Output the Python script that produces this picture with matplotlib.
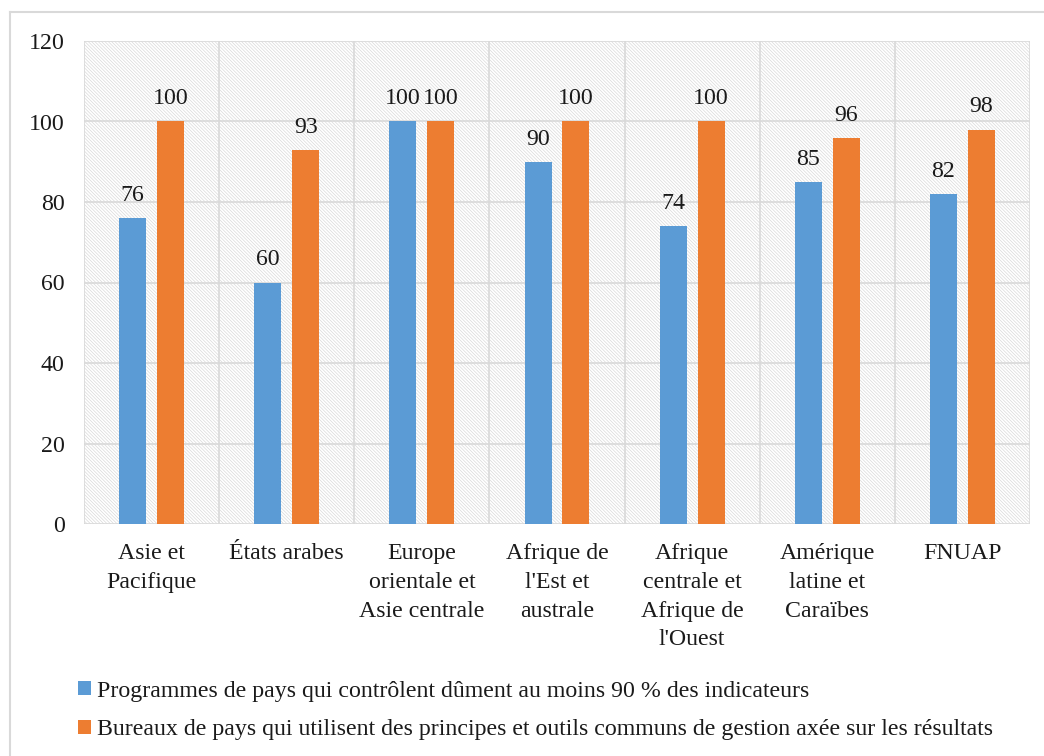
import matplotlib
matplotlib.use("Agg")
import matplotlib.pyplot as plt
from matplotlib.patches import Rectangle
import numpy as np

categories = ["Asie et\nPacifique", "États arabes", "Europe\norientale et\nAsie centrale",
              "Afrique de\nl'Est et\naustrale", "Afrique\ncentrale et\nAfrique de\nl'Ouest",
              "Amérique\nlatine et\nCaraïbes", "FNUAP"]
programmes = [76, 60, 100, 90, 74, 85, 82]
bureaux = [100, 93, 100, 100, 100, 96, 98]
series_names = ["Programmes de pays qui contrôlent dûment au moins 90 % des indicateurs",
                "Bureaux de pays qui utilisent des principes et outils communs de gestion axée sur les résultats"]
yticks = [0, 20, 40, 60, 80, 100, 120]

plt.rcParams['font.family'] = ['Liberation Serif', 'DejaVu Serif']
plt.rcParams['hatch.color'] = '#dcdcdc'
plt.rcParams['hatch.linewidth'] = 0.5

blue = '#5b9bd5'
orange = '#ed7d31'
grid = '#d9d9d9'
txt = '#1a1a1a'
fs = 17.2

fig = plt.figure(figsize=(10.44, 7.56), dpi=100)
fig.add_artist(plt.Line2D([10/1044, 10/1044], [0, 1 - 12/756], transform=fig.transFigure, color='#d9d9d9', lw=1.5))
fig.add_artist(plt.Line2D([10/1044, 1], [1 - 12/756, 1 - 12/756], transform=fig.transFigure, color='#d9d9d9', lw=1.5))

ax = fig.add_axes([84/1044, (756-524)/756, (1030-84)/1044, (524-41)/756])
n = len(categories)
x = np.arange(n)
ax.set_xlim(-0.5, n - 0.5)
ax.set_ylim(0, 120)

ax.add_patch(Rectangle((0, 0), 1, 1, transform=ax.transAxes, facecolor='white',
                       edgecolor=grid, hatch='\\' * 10, lw=0, zorder=0))

for y in yticks:
    ax.axhline(y, color=grid, lw=1.2, zorder=1)
for i in range(n + 1):
    ax.axvline(i - 0.5, color=grid, lw=1.2, zorder=1)

w = 0.2
off = 0.14
b1 = ax.bar(x - off, programmes, w, color=blue, zorder=3, label=series_names[0])
b2 = ax.bar(x + off, bureaux, w, color=orange, zorder=3, label=series_names[1])
for xi, v in zip(x - off, programmes):
    ax.text(xi, v + 3.0, f"{v}", ha='center', va='bottom', fontsize=fs, color=txt, zorder=4)
for xi, v in zip(x + off, bureaux):
    ax.text(xi, v + 3.0, f"{v}", ha='center', va='bottom', fontsize=fs, color=txt, zorder=4)

ax.set_yticks(yticks)
ax.set_yticklabels([str(t) for t in yticks], fontsize=fs, color=txt)
ax.set_xticks(x)
ax.set_xticklabels(categories, fontsize=fs, color=txt, linespacing=1.48, va='top')
ax.tick_params(axis='both', length=0)
ax.tick_params(axis='y', pad=14)
ax.tick_params(axis='x', pad=14)
for s in ax.spines.values():
    s.set_visible(False)

leg = fig.legend(handles=[b1, b2], labels=series_names, loc='upper left',
                 bbox_to_anchor=(68/1044, 1 - 671/756), frameon=False, fontsize=fs,
                 handlelength=0.55, handleheight=0.55, handletextpad=0.25, labelspacing=0.75,
                 borderaxespad=0)
for t in leg.get_texts():
    t.set_color(txt)

fig.savefig('out.png', dpi=100, facecolor='white')
